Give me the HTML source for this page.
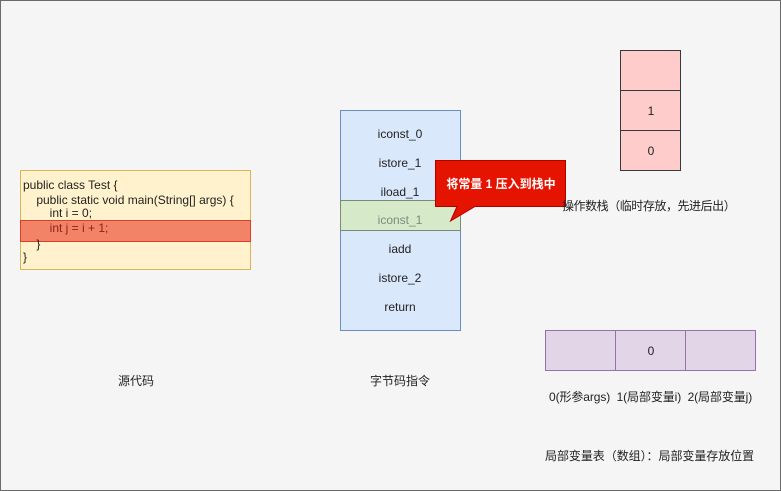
<!DOCTYPE html>
<html><head><meta charset="utf-8">
<style>
html,body{margin:0;padding:0;}
body{width:781px;height:491px;overflow:hidden;background:#f5f5f5;position:relative;font-family:"Liberation Sans","Noto Sans CJK SC",sans-serif;font-size:12px;color:#222;}
.frame{position:absolute;left:0;top:0;width:781px;height:491px;box-sizing:border-box;border:1px solid #6a6a6a;}
.abs{position:absolute;}
.t{position:absolute;white-space:nowrap;line-height:14px;}
.c{transform:translateX(-50%);text-align:center;}
</style></head><body>
<div class="frame"></div>

<!-- source code box -->
<div class="abs" style="left:20px;top:170px;width:231px;height:100px;box-sizing:border-box;background:#fff2cc;border:1px solid #d6b656;"></div>
<div class="t" style="left:23px;top:178px;">public class Test {</div>
<div class="t" style="left:23px;top:193px;">&nbsp;&nbsp;&nbsp;&nbsp;public static void main(String[] args) {</div>
<div class="t" style="left:23px;top:206px;">&nbsp;&nbsp;&nbsp;&nbsp;&nbsp;&nbsp;&nbsp;&nbsp;int i = 0;</div>
<div class="abs" style="left:20px;top:220px;width:231px;height:22px;box-sizing:border-box;background:#f28366;border:1px solid #d4402a;"></div>
<div class="t" style="left:23px;top:221px;color:#8c2319;">&nbsp;&nbsp;&nbsp;&nbsp;&nbsp;&nbsp;&nbsp;&nbsp;int j = i + 1;</div>
<div class="t" style="left:23px;top:237px;">&nbsp;&nbsp;&nbsp;&nbsp;}</div>
<div class="t" style="left:23px;top:250px;">}</div>

<div class="t c" style="left:136px;top:374px;">源代码</div>

<!-- bytecode box -->
<div class="abs" style="left:340px;top:110px;width:121px;height:221px;box-sizing:border-box;background:#dae8fc;border:1px solid #6c8ebf;"></div>
<div class="abs" style="left:340px;top:200px;width:121px;height:31px;box-sizing:border-box;background:#d6e9c8;border:1px solid #7a8a78;"></div>
<div class="t c" style="left:400px;top:127px;">iconst_0</div>
<div class="t c" style="left:400px;top:156px;">istore_1</div>
<div class="t c" style="left:400px;top:185px;">iload_1</div>
<div class="t c" style="left:400px;top:213px;color:#7f8a7b;">iconst_1</div>
<div class="t c" style="left:400px;top:242px;">iadd</div>
<div class="t c" style="left:400px;top:271px;">istore_2</div>
<div class="t c" style="left:400px;top:300px;">return</div>
<div class="t c" style="left:400px;top:374px;">字节码指令</div>

<!-- callout -->
<svg class="abs" style="left:0;top:0;" width="781" height="491">
<path d="M435.5 160.5 H565.5 V206.5 H475 L450.5 221 L457 206.5 H435.5 Z" fill="#e51400" stroke="#b20000" stroke-width="1"/>
</svg>
<div class="t c" style="left:501px;top:177px;color:#fff;font-weight:bold;">将常量 1 压入到栈中</div>

<!-- operand stack -->
<div class="abs" style="left:620px;top:50px;width:61px;height:41px;box-sizing:border-box;background:#ffcccc;border:1px solid #36393d;"></div>
<div class="abs" style="left:620px;top:90px;width:61px;height:41px;box-sizing:border-box;background:#ffcccc;border:1px solid #36393d;"></div>
<div class="abs" style="left:620px;top:130px;width:61px;height:41px;box-sizing:border-box;background:#ffcccc;border:1px solid #36393d;"></div>
<div class="t c" style="left:651px;top:104px;">1</div>
<div class="t c" style="left:651px;top:144px;">0</div>
<div class="t" style="left:562px;top:199px;letter-spacing:-0.45px;">操作数栈（临时存放，先进后出）</div>

<!-- local variable table -->
<div class="abs" style="left:545px;top:330px;width:71px;height:41px;box-sizing:border-box;background:#e1d5e7;border:1px solid #9673a6;"></div>
<div class="abs" style="left:615px;top:330px;width:71px;height:41px;box-sizing:border-box;background:#e1d5e7;border:1px solid #9673a6;"></div>
<div class="abs" style="left:685px;top:330px;width:71px;height:41px;box-sizing:border-box;background:#e1d5e7;border:1px solid #9673a6;"></div>
<div class="t c" style="left:651px;top:344px;">0</div>
<div class="t" style="left:549px;top:390px;letter-spacing:-0.1px;">0(形参args)&nbsp;&nbsp;1(局部变量i)&nbsp;&nbsp;2(局部变量j)</div>
<div class="t" style="left:545px;top:449px;letter-spacing:-0.05px;">局部变量表（数组）：局部变量存放位置</div>
</body></html>
